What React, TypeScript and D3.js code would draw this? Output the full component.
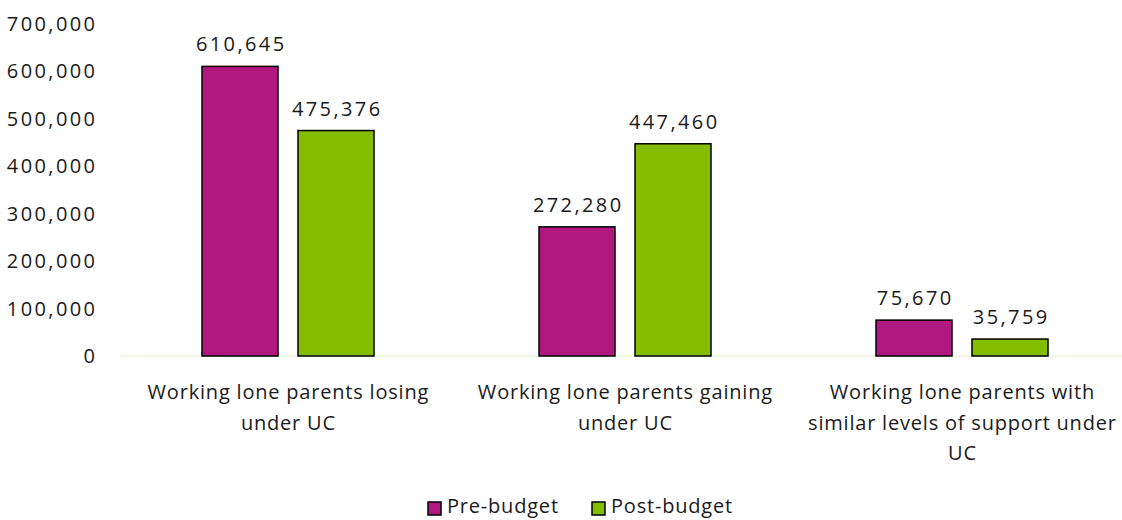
import React from "react";
import * as d3 from "d3";

const categories = [
  ["Working lone parents losing", "under UC"],
  ["Working lone parents gaining", "under UC"],
  ["Working lone parents with", "similar levels of support under", "UC"],
];
const seriesNames = ["Pre-budget", "Post-budget"];
const preBudget = [610645, 272280, 75670];
const postBudget = [475376, 447460, 35759];
const yTicks = [0, 100000, 200000, 300000, 400000, 500000, 600000, 700000];
const colors = ["#B01880", "#84BD00"];

const W = 1122;
const H = 520;
const FONT = "'Open Sans', sans-serif";
const NUM_LS = 2.4;
const TXT_LS = 0.8;

export default function App() {
  const y = d3.scaleLinear().domain([0, 700000]).range([356, 24]);
  const x0 = d3.scaleBand<number>().domain([0, 1, 2]).range([119.5, 1130.5]);
  const fmt = d3.format(",");
  const barW = 76;
  const gap = 20;
  const series = [preBudget, postBudget];

  return (
    <svg width={W} height={H} style={{ display: "block", position: "absolute", left: 0, top: 0 }} fontFamily={FONT}>
      <rect width={W} height={H} fill="#fff" />
      {yTicks.map((t) => (
        <text key={t} x={95 + NUM_LS} y={y(t)} dy="0.35em" textAnchor="end" fontSize={20} letterSpacing={NUM_LS} fill="#1a1a1a">
          {fmt(t)}
        </text>
      ))}
      <line x1={120} x2={1122} y1={356} y2={356} stroke="#EEF7D9" strokeWidth={1.5} />
      {categories.map((c, i) => {
        const cx = (x0(i) as number) + x0.bandwidth() / 2;
        return (
          <g key={i}>
            {series.map((s, j) => {
              const bx = j === 0 ? cx - gap / 2 - barW : cx + gap / 2;
              const top = y(s[i]);
              return (
                <g key={j}>
                  <rect x={bx} y={top} width={barW} height={356 - top} fill={colors[j]} stroke="#000" strokeWidth={1.5} />
                  <text x={bx + barW / 2 + NUM_LS / 2} y={top - 22} dy="0.35em" textAnchor="middle" fontSize={20} letterSpacing={NUM_LS} fill="#1a1a1a">
                    {fmt(s[i])}
                  </text>
                </g>
              );
            })}
            {c.map((line, k) => (
              <text key={k} x={cx + TXT_LS / 2} y={392 + k * 30.5} dy="0.35em" textAnchor="middle" fontSize={20} letterSpacing={TXT_LS} fill="#1a1a1a">
                {line}
              </text>
            ))}
          </g>
        );
      })}
      {seriesNames.map((n, j) => {
        const lx = j === 0 ? 428 : 592;
        return (
          <g key={n}>
            <rect x={lx} y={502} width={13} height={13} fill={colors[j]} stroke="#000" strokeWidth={1.5} />
            <text x={lx + 19} y={506} dy="0.35em" fontSize={20} letterSpacing={TXT_LS} fill="#1a1a1a">
              {n}
            </text>
          </g>
        );
      })}
    </svg>
  );
}
